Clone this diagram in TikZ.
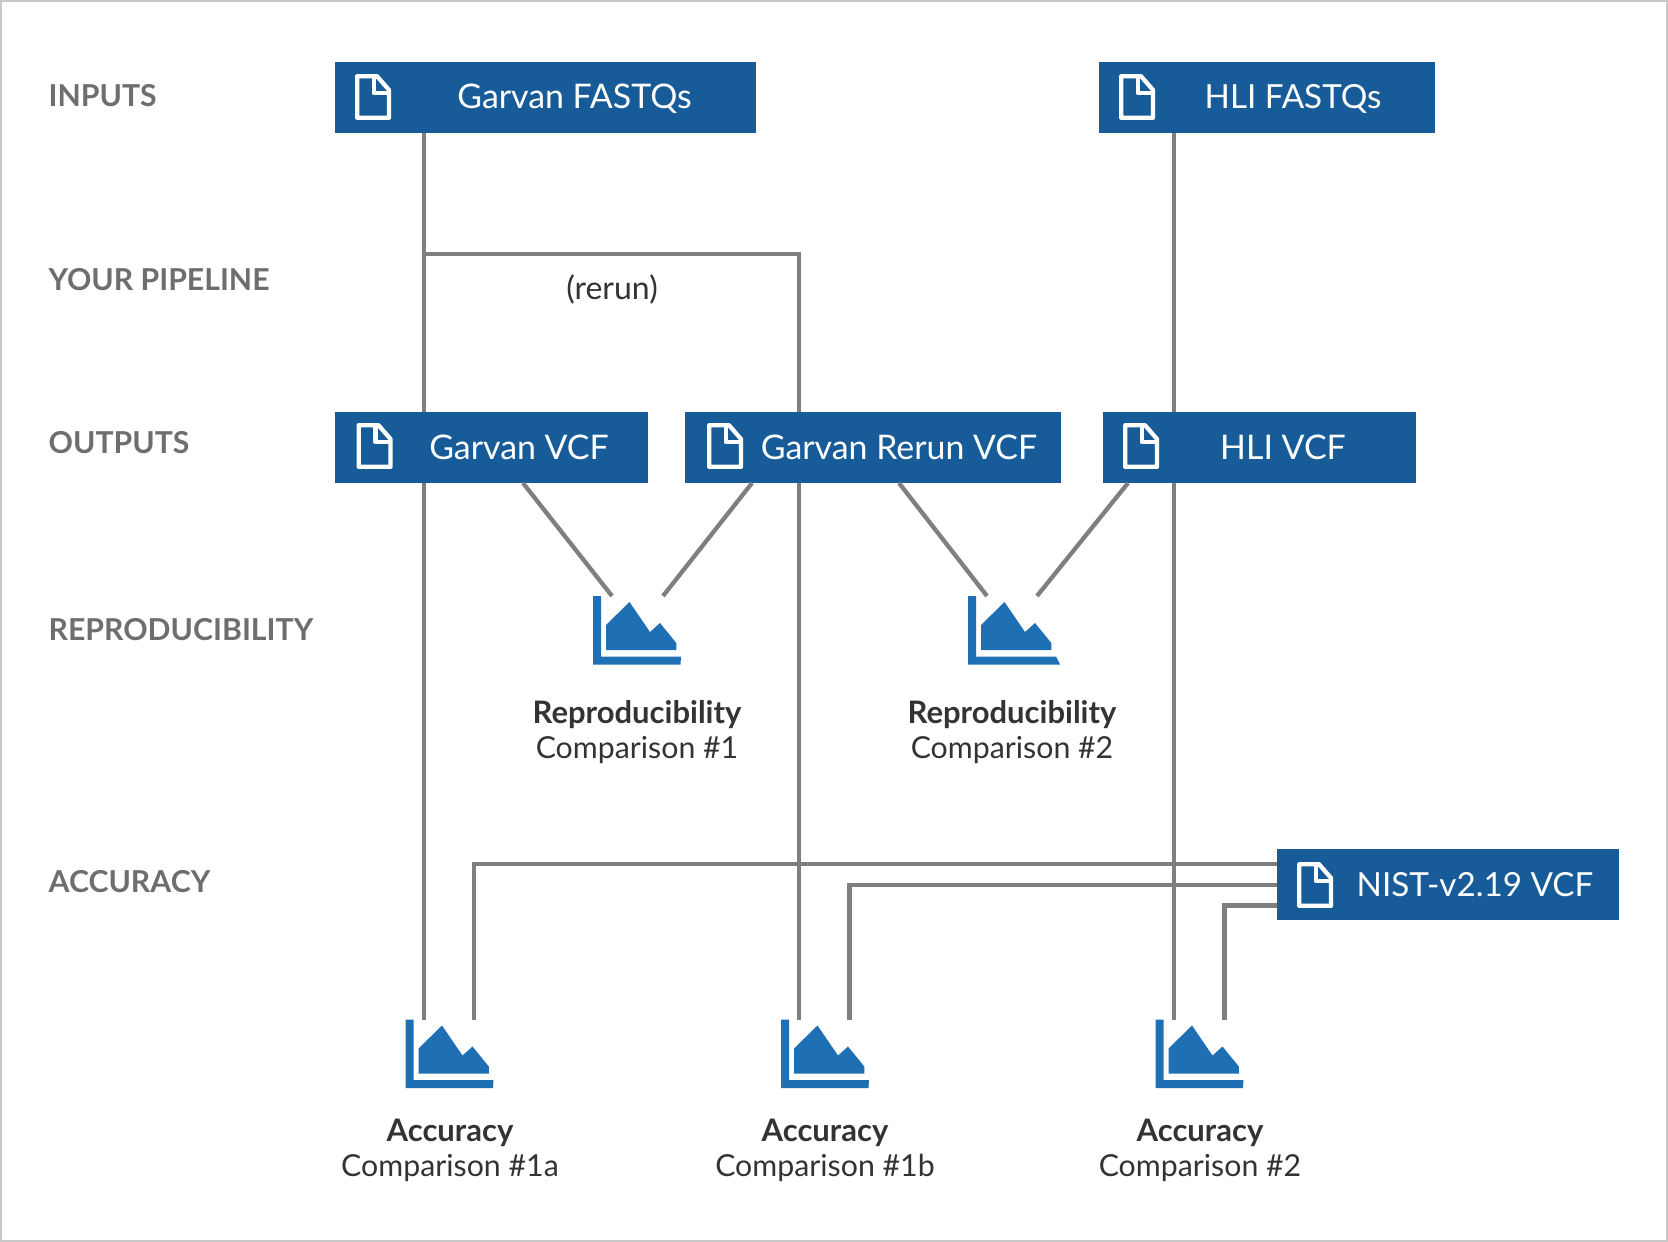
\documentclass[tikz,border=0pt]{standalone}
\usepackage{fontspec}
\setmainfont{Lato}
\definecolor{boxblue}{HTML}{175C98}
\definecolor{iconblue}{HTML}{1F6FB5}
\definecolor{wiregray}{HTML}{7F7F7F}
\definecolor{labelgray}{HTML}{6E6E6E}
\definecolor{darktext}{HTML}{333333}
\definecolor{framegray}{HTML}{C8C8C8}
\tikzset{
  bluebox/.style={fill=boxblue,draw=none,inner sep=0pt,anchor=north west,minimum height=71pt},
  boxtext/.style={text=white,font=\fontsize{33.9}{34}\selectfont,anchor=base,inner sep=0pt},
  boxtextsmall/.style={boxtext,font=\fontsize{33.2}{34}\selectfont},
  sidelabel/.style={text=labelgray,font=\fontsize{30.2}{30}\selectfont\bfseries,anchor=base west,inner sep=0pt},
  captionbold/.style={text=darktext,font=\fontsize{31}{31}\selectfont\bfseries,anchor=base,inner sep=0pt},
  captionplain/.style={text=darktext,font=\fontsize{30.3}{30}\selectfont,anchor=base,inner sep=0pt},
  wire/.style={draw=wiregray,line width=4.3pt},
  charticon/.style={inner sep=0pt,minimum width=88pt,minimum height=69pt,anchor=north west},
  fileicon/.style={draw=white,line width=4.3pt,line join=round,fill=none}
}
\newcommand{\filemark}[2]{%
  \begin{scope}[shift={(#1,#2)}]
    \draw[fileicon] (2.2,2.2) -- (22,2.2) -- (34,16) -- (34,43.8) -- (2.2,43.8) -- cycle;
    \draw[fileicon] (19,2.2) -- (19,19) -- (34,19);
  \end{scope}}
\newcommand{\chartmark}[4]{%
  \node[charticon] (#1) at (#2,#3) {};
  \begin{scope}[shift={(#2,#3)}]
    \fill[iconblue] (0,0) -- (8,0) -- (8,60.5) -- (88,60.5) -- (#4,68.5) -- (0,68.5) -- cycle;
    \fill[iconblue] (13,54) -- (13,29) -- (36.5,6) -- (57,36) -- (67,27) -- (83.3,47) -- (83.3,54) -- cycle;
  \end{scope}}
\begin{document}
\begin{tikzpicture}[x=1pt,y=-1pt]
\useasboundingbox (0,0) rectangle (1668,1242);
\fill[white] (0,0) rectangle (1668,1242);
\draw[framegray,line width=2pt] (1,1) rectangle (1667,1241);

% vertical rails
\coordinate (xg) at (424.3,0);
\coordinate (xr) at (799,0);
\coordinate (xh) at (1174.3,0);
\coordinate (branch) at (424.3,254);

% boxes
\node[bluebox,minimum width=421pt] (gf) at (335,62) {};
\node[bluebox,minimum width=335.5pt] (hf) at (1099,62) {};
\node[bluebox,minimum width=313pt] (gv) at (335,412) {};
\node[bluebox,minimum width=376pt] (rv) at (685,412) {};
\node[bluebox,minimum width=313pt] (hv) at (1103,412) {};
\node[bluebox,minimum width=342pt] (nv) at (1277,849) {};

% charts
\chartmark{r1}{593}{596}{87.5}
\chartmark{r2}{968}{596}{92}
\chartmark{a1}{405.5}{1019.5}{87.5}
\chartmark{a2}{781}{1019.5}{87.5}
\chartmark{a3}{1155.5}{1019.5}{87.5}

% connectors
\draw[wire] (gf.south -| xg) -- (gv.north -| xg);
\draw[wire] (branch) -- (branch -| xr) -- (rv.north -| xr);
\draw[wire] (hf.south -| xh) -- (hv.north -| xh);
\draw[wire] (gv.south -| xg) -- (a1.north -| xg);
\draw[wire] (rv.south -| xr) -- (a2.north -| xr);
\draw[wire] (hv.south -| xh) -- (a3.north -| xh);

\coordinate (d1a) at (523,483); \coordinate (d1b) at (612,596);
\coordinate (d2a) at (752,483); \coordinate (d2b) at (663,596);
\coordinate (d3a) at (899,483); \coordinate (d3b) at (987,596);
\coordinate (d4a) at (1128,483); \coordinate (d4b) at (1037,596);
\draw[wire] (d1a) -- (d1b);
\draw[wire] (d2a) -- (d2b);
\draw[wire] (d3a) -- (d3b);
\draw[wire] (d4a) -- (d4b);

\coordinate (n1) at (474,864);
\coordinate (n2) at (849.5,885);
\coordinate (n3) at (1224.5,905.5);
\draw[wire] (nv.west |- n1) -- (n1) -- (n1 |- a1.north);
\draw[wire] (nv.west |- n2) -- (n2) -- (n2 |- a2.north);
\draw[wire] (nv.west |- n3) -- (n3) -- (n3 |- a3.north);

% file icons
\filemark{355}{74}
\filemark{1119}{74}
\filemark{356.5}{423}
\filemark{707}{423}
\filemark{1123}{423}
\filemark{1297}{862}

% box text
\node[boxtext] (t1) at (574.5,108.5) {Garvan FASTQs};
\node[boxtextsmall] (t2) at (1293,108.5) {HLI FASTQs};
\node[boxtext] (t3) at (519,459) {Garvan VCF};
\node[boxtext] (t4) at (899,459) {Garvan Rerun VCF};
\node[boxtext] (t5) at (1283,459) {HLI VCF};
\node[boxtextsmall] (t6) at (1475,896) {NIST-v2.19 VCF};

% side labels
\node[sidelabel] (l1) at (48.5,106) {INPUTS};
\node[sidelabel] (l2) at (48.5,290) {YOUR PIPELINE};
\node[sidelabel] (l3) at (48.5,453) {OUTPUTS};
\node[sidelabel] (l4) at (48.5,640.5) {REPRODUCIBILITY};
\node[sidelabel] (l5) at (48.5,892.5) {ACCURACY};

\node[captionplain,font=\fontsize{32}{32}\selectfont] (rr) at (612,299.5) {(rerun)};

% captions
\node[captionbold] (c1) at (637,723.5) {Reproducibility};
\node[captionplain] (c1b) at (637,758.5) {Comparison \#1};
\node[captionbold] (c2) at (1012,723.5) {Reproducibility};
\node[captionplain] (c2b) at (1012,758.5) {Comparison \#2};
\node[captionbold] (c3) at (450,1141) {Accuracy};
\node[captionplain] (c3b) at (450,1176) {Comparison \#1a};
\node[captionbold] (c4) at (825,1141) {Accuracy};
\node[captionplain] (c4b) at (825,1176) {Comparison \#1b};
\node[captionbold] (c5) at (1200,1141) {Accuracy};
\node[captionplain] (c5b) at (1200,1176) {Comparison \#2};
\end{tikzpicture}
\end{document}
